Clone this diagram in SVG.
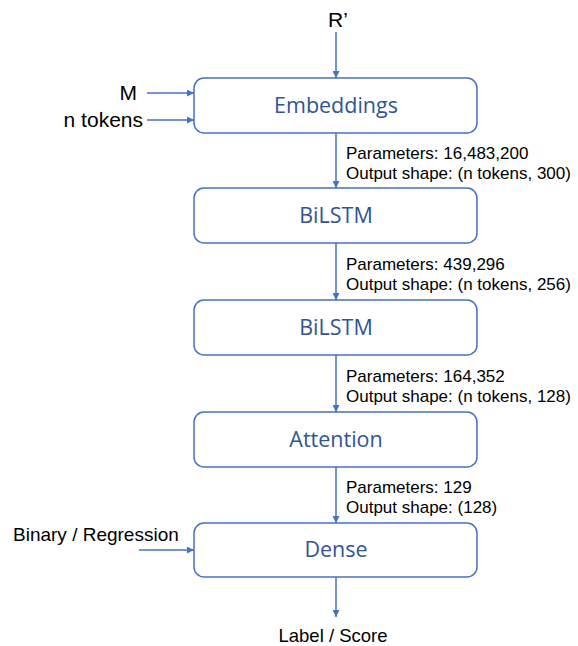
<svg xmlns="http://www.w3.org/2000/svg" width="578" height="646" viewBox="0 0 578 646">
<style>
.box{fill:#fff;stroke:#4472C4;stroke-width:1.5}
.nl{font-family:"Open Sans","Liberation Sans",sans-serif;font-size:21.5px;fill:#2F5597;text-anchor:middle}
.t{font-family:"Liberation Sans",Arial,sans-serif;font-size:17px;fill:#000}
.big{font-family:"Liberation Sans",Arial,sans-serif;font-size:21px;fill:#000}
.c{stroke:#4472C4;stroke-width:1.5;fill:none;marker-end:url(#ah)}
</style>
<defs>
<marker id="ah" viewBox="0 0 10 10" refX="10" refY="5" markerWidth="7" markerHeight="7" markerUnits="userSpaceOnUse" orient="auto">
<path d="M0,0 L10,5 L0,10 z" fill="#4472C4"/>
</marker>
</defs>
<rect width="578" height="646" fill="#fff"/>
<g id="connectors">
<line class="c" x1="336" y1="32" x2="336" y2="78"/>
<line class="c" x1="147" y1="93" x2="194" y2="93"/>
<line class="c" x1="147" y1="120" x2="194" y2="120"/>
<line class="c" x1="336" y1="133" x2="336" y2="188"/>
<line class="c" x1="336" y1="243" x2="336" y2="300"/>
<line class="c" x1="336" y1="355" x2="336" y2="412"/>
<line class="c" x1="336" y1="467" x2="336" y2="523"/>
<line class="c" x1="139" y1="550" x2="194" y2="550"/>
<line class="c" x1="336" y1="577" x2="336" y2="617"/>
</g>
<g id="inputs">
<text class="big" x="338" y="27" text-anchor="middle">R’</text>
<text class="big" x="137" y="100" text-anchor="end">M</text>
<text class="big" x="143" y="127" text-anchor="end">n tokens</text>
<text class="t" x="13" y="541" style="font-size:19px">Binary / Regression</text>
<text class="t" x="333" y="642" text-anchor="middle" style="font-size:18.5px">Label / Score</text>
</g>
<g id="embeddings"><rect class="box" x="194" y="78" width="283" height="55" rx="10"/><text class="nl" x="336" y="113">Embeddings</text></g>
<g id="bilstm1"><rect class="box" x="194" y="188" width="283" height="55" rx="10"/><text class="nl" x="336" y="223">BiLSTM</text></g>
<g id="bilstm2"><rect class="box" x="194" y="300" width="283" height="55" rx="10"/><text class="nl" x="336" y="335">BiLSTM</text></g>
<g id="attention"><rect class="box" x="194" y="412" width="283" height="55" rx="10"/><text class="nl" x="336" y="447">Attention</text></g>
<g id="dense"><rect class="box" x="194" y="523" width="283" height="54" rx="10"/><text class="nl" x="336" y="557">Dense</text></g>
<g id="labels">
<text class="t" x="346" y="159">Parameters: 16,483,200</text>
<text class="t" x="346" y="179">Output shape: (n tokens, 300)</text>
<text class="t" x="346" y="270">Parameters: 439,296</text>
<text class="t" x="346" y="290">Output shape: (n tokens, 256)</text>
<text class="t" x="346" y="382">Parameters: 164,352</text>
<text class="t" x="346" y="402">Output shape: (n tokens, 128)</text>
<text class="t" x="346" y="493">Parameters: 129</text>
<text class="t" x="346" y="513">Output shape: (128)</text>
</g>
</svg>
